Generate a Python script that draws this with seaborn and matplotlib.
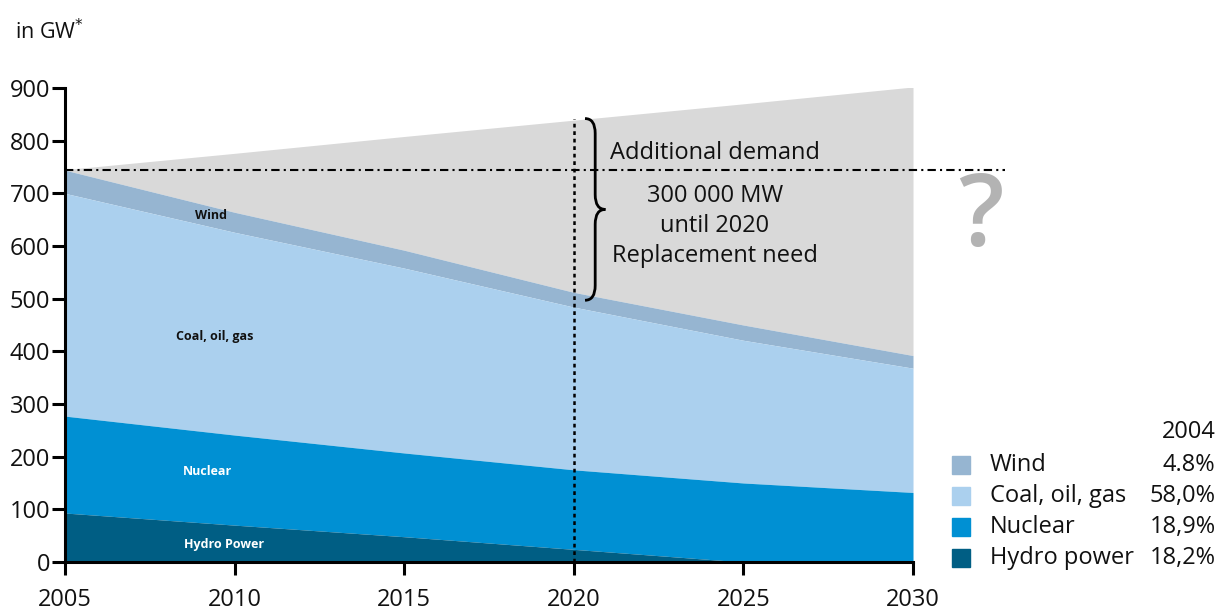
import numpy as np
import pandas as pd
import matplotlib
matplotlib.use("Agg")
import matplotlib.pyplot as plt
from matplotlib.path import Path
from matplotlib.patches import PathPatch
import seaborn as sns

# values (GW, cumulative tops of each band)
years = [2005, 2010, 2015, 2020, 2025, 2030]
hydro_top = [93, 70, 48, 24, 0, 0]
nuclear_top = [277, 241, 207, 175, 150, 132]
coal_top = [700, 626, 558, 484, 421, 368]
wind_top = [744, 664, 592, 512, 450, 392]
demand_top = [745, 776, 808, 839, 870, 902]

legend_names = ["Wind", "Coal, oil, gas", "Nuclear", "Hydro power"]
legend_shares = ["4.8%", "58,0%", "18,9%", "18,2%"]

col_grey = "#d9d9d9"
col_wind = "#96b5d1"
col_coal = "#abd0ee"
col_nuclear = "#0090d3"
col_hydro = "#005e84"

sns.set_theme(style="ticks")
plt.rcParams["font.family"] = ["Open Sans", "DejaVu Sans"]
plt.rcParams["text.color"] = "#111111"

df = pd.DataFrame({"year": years, "hydro": hydro_top, "nuclear": nuclear_top,
                   "coal": coal_top, "wind": wind_top, "demand": demand_top})

fig = plt.figure(figsize=(12.18, 6.1), dpi=100)
ax = fig.add_axes([0.0534, 0.0787, 0.6962, 0.777])

zero = np.zeros(len(df))
ax.fill_between(df["year"], df["wind"], df["demand"], color=col_grey, lw=0)
ax.fill_between(df["year"], df["coal"], df["wind"], color=col_wind, lw=0)
ax.fill_between(df["year"], df["nuclear"], df["coal"], color=col_coal, lw=0)
ax.fill_between(df["year"], df["hydro"], df["nuclear"], color=col_nuclear, lw=0)
ax.fill_between(df["year"], zero, df["hydro"], color=col_hydro, lw=0)

ax.set_xlim(2005, 2030)
ax.set_ylim(0, 900)
ax.set_xticks(range(2005, 2031, 5))
ax.set_yticks(range(0, 901, 100))
sns.despine(ax=ax)
for s in ["left", "bottom"]:
    ax.spines[s].set_linewidth(2.2)
    ax.spines[s].set_color("black")
ax.tick_params(axis="both", length=9.5, width=2.2, labelsize=17, colors="black",
               labelcolor="#111111")
ax.tick_params(axis="y", pad=1)
ax.tick_params(axis="x", pad=9)
ax.set_xlabel("")
ax.set_ylabel("")

# reference lines
ax.plot([2005, 2032.7], [745, 745], color="black", ls=(0, (4, 2, 1, 2)), lw=1.5,
        clip_on=False, zorder=5)
ax.plot([2020, 2020], [0, 842], color="black", ls=(0, (1.5, 1.5)), lw=1.8, zorder=5)


# curly brace as a thin path
def brace(ax, x0, y0, y1, w, r):
    xm = x0 + w / 2
    ymid = (y0 + y1) / 2
    verts = [(x0, y1), (xm, y1), (xm, y1 - r),
             (xm, ymid + r), (xm, ymid), (x0 + w, ymid),
             (xm, ymid), (xm, ymid - r),
             (xm, y0 + r), (xm, y0), (x0, y0)]
    codes = [Path.MOVETO, Path.CURVE3, Path.CURVE3,
             Path.LINETO, Path.CURVE3, Path.CURVE3,
             Path.CURVE3, Path.CURVE3,
             Path.LINETO, Path.CURVE3, Path.CURVE3]
    ax.add_patch(PathPatch(Path(verts, codes), fill=False, lw=2, ec="black", zorder=6))


brace(ax, 2020.33, 497, 842, 0.6, 28)

ax.text(2024.16, 777, "Additional demand", fontsize=17, ha="center", va="center")
ax.text(2024.16, 695, "300 000 MW", fontsize=17, ha="center", va="center")
ax.text(2024.16, 638, "until 2020", fontsize=17, ha="center", va="center")
ax.text(2024.16, 581, "Replacement need", fontsize=17, ha="center", va="center")
ax.text(2032.0, 650, "?", fontsize=72, color="#b3b3b3", fontweight="semibold",
        ha="center", va="center", clip_on=False)

# band labels
ax.text(2009.3, 657, "Wind", fontsize=9, fontweight="bold", ha="center", va="center")
ax.text(2009.4, 428, "Coal, oil, gas", fontsize=9, fontweight="bold", ha="center", va="center")
ax.text(2009.2, 171, "Nuclear", fontsize=9, fontweight="bold", color="white", ha="center", va="center")
ax.text(2009.7, 33, "Hydro Power", fontsize=9, fontweight="bold", color="white", ha="center", va="center")

fig.text(0.012, 0.948, "in GW$^{*}$", fontsize=15.5, ha="left", va="center")

# custom legend
leg_colors = [col_wind, col_coal, col_nuclear, col_hydro]
fig.text(0.998, 0.292, "2004", fontsize=17, ha="right", va="center")
for i, (name, share, c) in enumerate(zip(legend_names, legend_shares, leg_colors)):
    yy = 0.238 - i * 0.0508
    fig.patches.append(plt.Rectangle((0.7815, yy - 0.0145), 0.0148, 0.029,
                                     transform=fig.transFigure, color=c, figure=fig))
    fig.text(0.8125, yy, name, fontsize=17, ha="left", va="center")
    fig.text(0.998, yy, share, fontsize=17, ha="right", va="center")

fig.savefig("out.png", dpi=100)
